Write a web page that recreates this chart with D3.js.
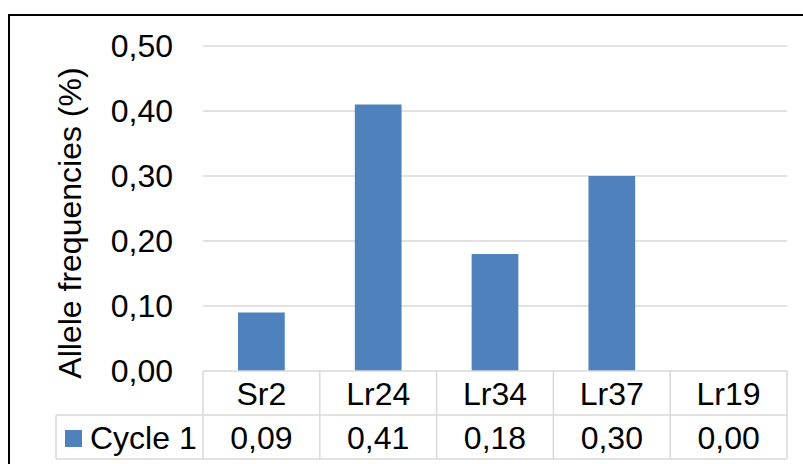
<!DOCTYPE html>
<html>
<head>
<meta charset="utf-8">
<script src="https://cdn.jsdelivr.net/npm/d3@7"></script>
<style>
  html, body { margin: 0; padding: 0; background: #fff; }
  svg { display: block; font-family: "Liberation Sans", Arial, sans-serif; }
</style>
</head>
<body>
<svg id="chart" width="803" height="464"></svg>
<script>
// Marker genes and their allele frequencies (%) in cycle 1
const categories = ["Sr2", "Lr24", "Lr34", "Lr37", "Lr19"];
const cycle1 = [0.09, 0.41, 0.18, 0.30, 0.00];
const seriesName = "Cycle 1";
const yTicks = [0, 0.1, 0.2, 0.3, 0.4, 0.5];
const yTitle = "Allele frequencies (%)";

const svg = d3.select("#chart");
const fmt = d3.formatLocale({ decimal: ",", thousands: ".", grouping: [3], currency: ["", ""] }).format(".2f");

const plotLeft = 203, plotRight = 787, plotTop = 46, plotBottom = 371;
const rowH = 44;
const legendLeft = 56;
const barColor = "#4f81bd";
const gridColor = "#d9d9d9";
const fontSize = 32;

const x = d3.scaleBand().domain(categories).range([plotLeft, plotRight]).paddingInner(0).paddingOuter(0);
const y = d3.scaleLinear().domain([0, 0.5]).range([plotBottom, plotTop]);

// outer chart frame
svg.append("rect")
  .attr("x", 9).attr("y", 15).attr("width", 900).attr("height", 600)
  .attr("fill", "none").attr("stroke", "#000").attr("stroke-width", 2);

// horizontal gridlines
svg.append("g").selectAll("line").data(yTicks.filter(d => d > 0)).join("line")
  .attr("x1", plotLeft).attr("x2", plotRight)
  .attr("y1", d => y(d)).attr("y2", d => y(d))
  .attr("stroke", gridColor).attr("stroke-width", 1.5);

// y tick labels
svg.append("g").selectAll("text").data(yTicks).join("text")
  .attr("x", 173).attr("y", d => y(d))
  .attr("text-anchor", "end").attr("dominant-baseline", "central")
  .attr("font-size", fontSize).attr("fill", "#000")
  .text(d => fmt(d));

// y axis title
svg.append("text")
  .attr("transform", "translate(81,223) rotate(-90)")
  .attr("text-anchor", "middle")
  .attr("font-size", fontSize).attr("fill", "#000")
  .text(yTitle);

// bars
const barW = x.bandwidth() * 0.4;
svg.append("g").selectAll("rect").data(categories.map((c, i) => ({ c, v: cycle1[i] }))).join("rect")
  .attr("x", d => x(d.c) + (x.bandwidth() - barW) / 2)
  .attr("y", d => y(d.v))
  .attr("width", barW)
  .attr("height", d => y(0) - y(d.v))
  .attr("fill", barColor);

// data table beneath the plot
const tbl = svg.append("g").attr("stroke", gridColor).attr("stroke-width", 1.5).attr("fill", "none");
const rowTop = plotBottom, rowMid = plotBottom + rowH, rowBot = plotBottom + 2 * rowH;
tbl.append("line").attr("x1", plotLeft).attr("x2", plotRight).attr("y1", rowTop).attr("y2", rowTop);
tbl.append("line").attr("x1", legendLeft).attr("x2", plotRight).attr("y1", rowMid).attr("y2", rowMid);
tbl.append("line").attr("x1", legendLeft).attr("x2", plotRight).attr("y1", rowBot).attr("y2", rowBot);
tbl.append("line").attr("x1", legendLeft).attr("x2", legendLeft).attr("y1", rowMid).attr("y2", rowBot);
const colEdges = categories.map(c => x(c)).concat([plotRight]);
tbl.selectAll("line.col").data(colEdges).join("line").attr("class", "col")
  .attr("x1", d => d).attr("x2", d => d).attr("y1", rowTop).attr("y2", rowBot);

// category header cells
svg.append("g").selectAll("text").data(categories).join("text")
  .attr("x", d => x(d) + x.bandwidth() / 2).attr("y", rowTop + rowH / 2 + 1)
  .attr("text-anchor", "middle").attr("dominant-baseline", "central")
  .attr("font-size", fontSize).attr("fill", "#000")
  .text(d => d);

// value cells
svg.append("g").selectAll("text").data(categories.map((c, i) => ({ c, v: cycle1[i] }))).join("text")
  .attr("x", d => x(d.c) + x.bandwidth() / 2).attr("y", rowMid + rowH / 2 + 1)
  .attr("text-anchor", "middle").attr("dominant-baseline", "central")
  .attr("font-size", fontSize).attr("fill", "#000")
  .text(d => fmt(d.v));

// legend key in the table's row header
svg.append("rect")
  .attr("x", 65).attr("y", rowMid + 15).attr("width", 17).attr("height", 17)
  .attr("fill", barColor);
svg.append("text")
  .attr("x", 90).attr("y", rowMid + rowH / 2 + 1)
  .attr("dominant-baseline", "central")
  .attr("font-size", fontSize).attr("fill", "#000")
  .text(seriesName);
</script>
</body>
</html>
